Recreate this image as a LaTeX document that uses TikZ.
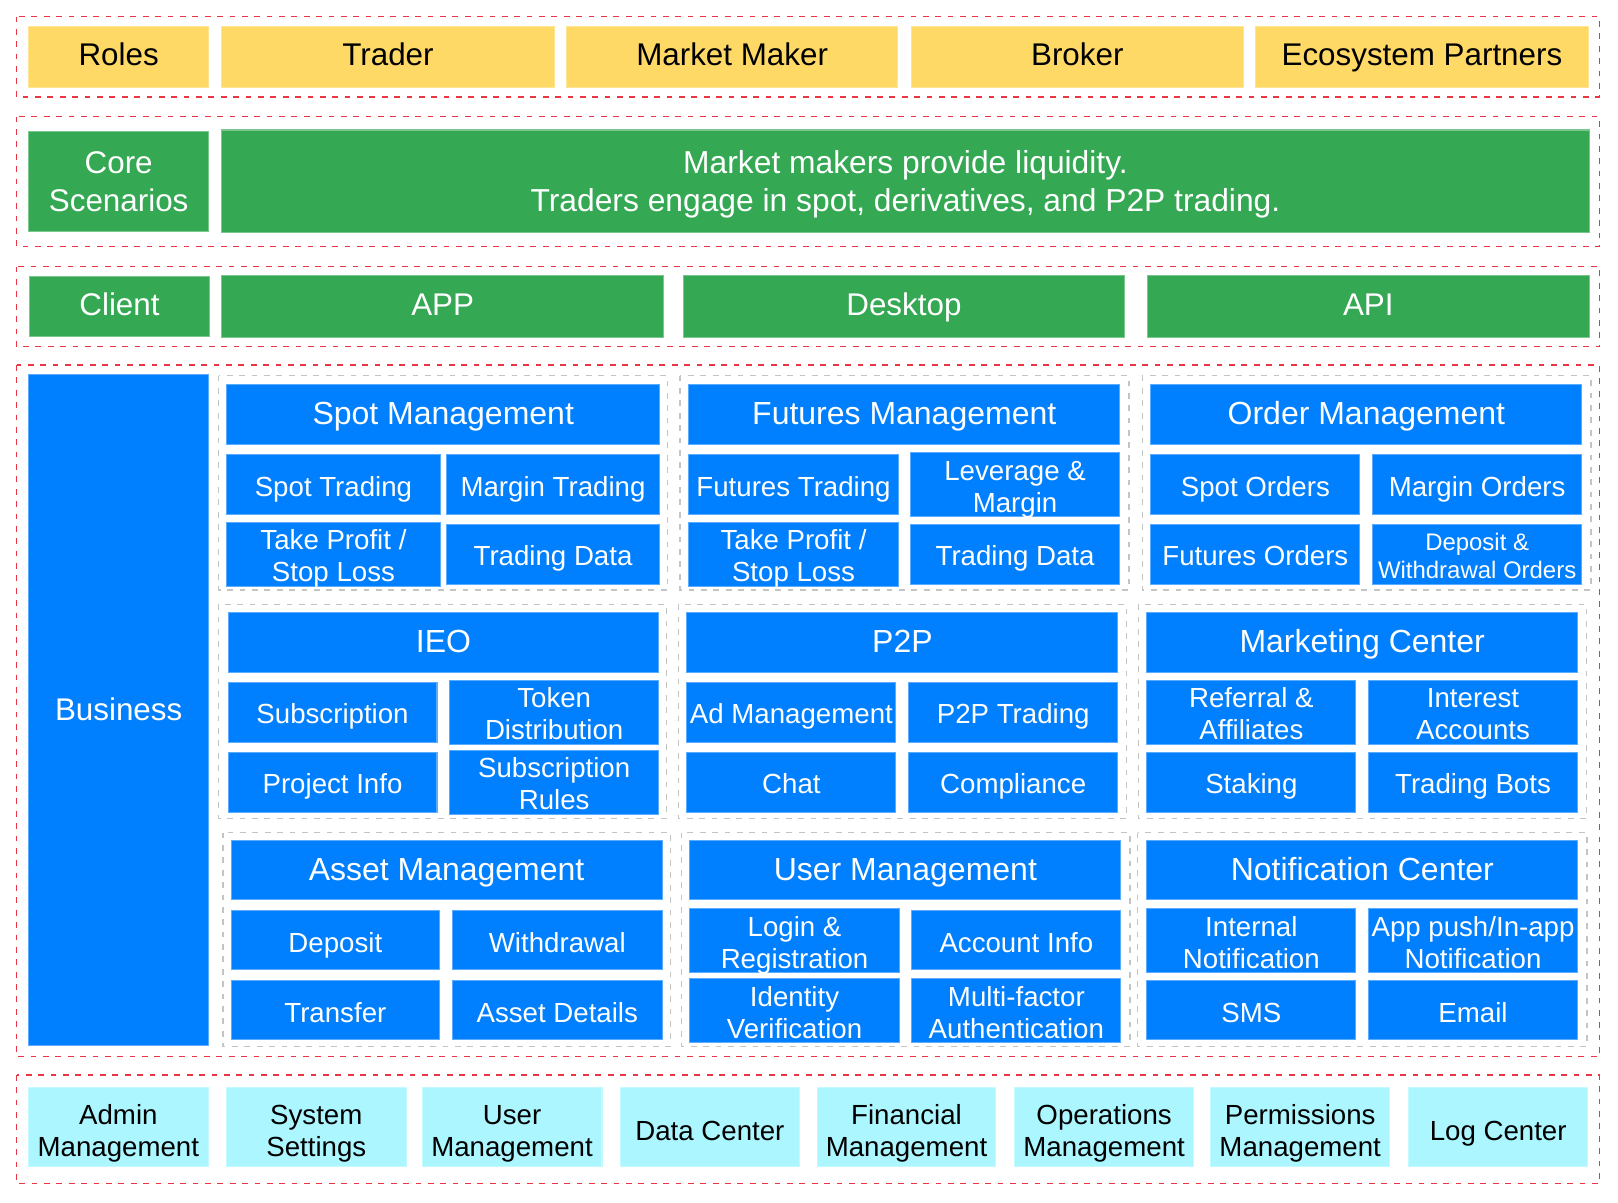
\documentclass[tikz,border=0pt]{standalone}
\usepackage{fontspec}
\setmainfont{Liberation Sans}
\definecolor{cY}{HTML}{FFD966}
\definecolor{cG}{HTML}{35A853}
\definecolor{cB}{HTML}{007FFF}
\definecolor{cC}{HTML}{ABF6FF}
\definecolor{cR}{HTML}{EA3545}
\definecolor{cGr}{HTML}{C4C4C4}
\newlength\lblshift
\newcommand\lbl[1]{\raisebox{-\lblshift}[\height][\depth]{\begin{tabular}{@{}c@{}}#1\end{tabular}}}
\newcommand\bx[7]{\node[#6, minimum width={(#4-#2)*0.5pt}, minimum height={(#5-#3)*0.5pt}] (#1) at ({(#2+#4)/2},{(#3+#5)/2}) {\lbl{#7}};}
\tikzset{
  box/.style={rectangle, inner sep=0pt, outer sep=0pt, line width=0.5pt, align=center},
  fbig/.style={font=\fontsize{15.2}{18.6}\selectfont\setlength\lblshift{0.6pt}},
  fbigtwo/.style={font=\fontsize{15.2}{18.6}\selectfont\setlength\lblshift{1.72pt}},
  fcore/.style={font=\fontsize{15.4}{18.6}\selectfont\setlength\lblshift{1.9pt}},
  fbus/.style={font=\fontsize{15.2}{18.6}\selectfont\setlength\lblshift{1.2pt}},
  fhead/.style={font=\fontsize{15.5}{18.6}\selectfont\setlength\lblshift{1.2pt}},
  fsub/.style={font=\fontsize{13.4}{15.5}\selectfont\setlength\lblshift{2.6pt}},
  fsmall/.style={font=\fontsize{11.6}{13.6}\selectfont\setlength\lblshift{2.1pt}},
  fcyan/.style={font=\fontsize{13.4}{15.5}\selectfont\setlength\lblshift{3.3pt}},
  ybox/.style={box, fill=cY, draw=cY!70!white, text=black, fbig},
  gbox/.style={box, fill=cG, draw=cG!65!white, text=white, fbig},
  gtwo/.style={box, fill=cG, draw=cG!65!white, text=white, fbigtwo},
  gcore/.style={box, fill=cG, draw=cG!65!white, text=white, fcore},
  bbig/.style={box, fill=cB, draw=cB!65!white, text=white, fbus},
  bhead/.style={box, fill=cB, draw=cB!65!white, text=white, fhead},
  bsub/.style={box, fill=cB, draw=cB!65!white, text=white, fsub},
  bsmall/.style={box, fill=cB, draw=cB!65!white, text=white, fsmall},
  cbox/.style={box, fill=cC, draw=cC!70!white, text=black, fcyan},
  layer/.style={draw=cR, line width=0.6pt, dash pattern=on 2.8pt off 3.2pt},
  group/.style={draw=cGr, line width=0.6pt, dash pattern=on 2.8pt off 3.2pt},
}
\begin{document}
\begin{tikzpicture}[x=0.5pt, y=-0.5pt]
\useasboundingbox (0,0) rectangle (1568,1165);
% layers
\draw[layer] (16,16) rectangle (1550,94);
\draw[layer] (16,113) rectangle (1550,239);
\draw[layer] (16,258.4) rectangle (1550,336);
\draw[layer] (16,353.7) rectangle (1550,1024);
\draw[layer] (16,1041.7) rectangle (1550,1147);
% roles
\bx{roles}{28}{25.5}{202}{84.6}{ybox}{Roles}
\bx{trader}{215}{25.5}{537}{84.6}{ybox}{Trader}
\bx{mm}{549}{25.5}{870}{84.6}{ybox}{Market Maker}
\bx{broker}{883}{25.5}{1205}{84.6}{ybox}{Broker}
\bx{eco}{1217}{25.5}{1539}{84.6}{ybox}{Ecosystem Partners}
% core scenarios
\bx{core}{28}{127.5}{202}{224}{gtwo}{Core\\Scenarios}
\bx{coretext}{215}{126}{1540}{225}{gcore}{Market makers provide liquidity.\\Traders engage in spot, derivatives, and P2P trading.}
% client
\bx{client}{28.6}{268}{203}{326}{gbox}{Client}
\bx{app}{215}{267}{643}{327}{gbox}{APP}
\bx{desktop}{662}{267}{1090}{327}{gbox}{Desktop}
\bx{api}{1112}{267}{1540}{327}{gbox}{API}
% business
\bx{business}{28}{362.7}{202}{1013.6}{bbig}{Business}
% groups
\draw[group] (212,364) rectangle (647,571.7);
\draw[group] (659,364) rectangle (1094,571.7);
\draw[group] (1107,364) rectangle (1541.7,571.7);
\draw[group] (212,585.6) rectangle (646,793.3);
\draw[group] (657.3,585.6) rectangle (1091.7,793.3);
\draw[group] (1103,585.6) rectangle (1537.5,793.3);
\draw[group] (216,806.9) rectangle (650,1014);
\draw[group] (660.5,806.9) rectangle (1095,1014);
\draw[group] (1102.6,806.9) rectangle (1538,1014);
% row A col 1
\bx{spot}{219.8}{372.4}{639.3}{430.4}{bhead}{Spot Management}
\bx{spotA}{219.8}{440.2}{426.5}{498.4}{bsub}{Spot Trading}
\bx{spotB}{432.6}{440.2}{639.3}{498.4}{bsub}{Margin Trading}
\bx{spotC}{219.8}{508}{426.5}{566.2}{bsub}{Take Profit /\\Stop Loss}
\bx{spotD}{432.6}{508}{639.3}{566.2}{bsub}{Trading Data}
% row A col 2
\bx{fut}{667.6}{372.4}{1085}{430.4}{bhead}{Futures Management}
\bx{futA}{667.6}{440.2}{870.4}{498.4}{bsub}{Futures Trading}
\bx{futB}{882.4}{440.2}{1085}{498.4}{bsub}{Leverage \&\\Margin}
\bx{futC}{667.6}{508}{870.4}{566.2}{bsub}{Take Profit /\\Stop Loss}
\bx{futD}{882.4}{508}{1085}{566.2}{bsub}{Trading Data}
% row A col 3
\bx{ord}{1115.3}{372.4}{1533}{430.4}{bhead}{Order Management}
\bx{ordA}{1115.3}{440.2}{1317.8}{498.4}{bsub}{Spot Orders}
\bx{ordB}{1330}{440.2}{1533}{498.4}{bsub}{Margin Orders}
\bx{ordC}{1115.3}{508}{1317.8}{566.2}{bsub}{Futures Orders}
\bx{ordD}{1330}{508}{1533}{566.2}{bsmall}{Deposit \&\\Withdrawal Orders}
% row B col 1
\bx{ieo}{221}{593.7}{638.5}{651.4}{bhead}{IEO}
\bx{ieoA}{221}{661}{423.5}{719.3}{bsub}{Subscription}
\bx{ieoB}{435.6}{661}{638.5}{719.3}{bsub}{Token\\Distribution}
\bx{ieoC}{221}{729}{423.5}{787}{bsub}{Project Info}
\bx{ieoD}{435.6}{729}{638.5}{787}{bsub}{Subscription\\Rules}
% row B col 2
\bx{ptp}{665.7}{593.7}{1083.3}{651.4}{bhead}{P2P}
\bx{ptpA}{665.7}{661}{868.2}{719.3}{bsub}{Ad Management}
\bx{ptpB}{880.5}{661}{1083.3}{719.3}{bsub}{P2P Trading}
\bx{ptpC}{665.7}{729}{868.2}{787}{bsub}{Chat}
\bx{ptpD}{880.5}{729}{1083.3}{787}{bsub}{Compliance}
% row B col 3
\bx{mkt}{1111.4}{593.7}{1528.8}{651.4}{bhead}{Marketing Center}
\bx{mktA}{1111.4}{661}{1314}{719.3}{bsub}{Referral \&\\Affiliates}
\bx{mktB}{1326.2}{661}{1528.8}{719.3}{bsub}{Interest\\Accounts}
\bx{mktC}{1111.4}{729}{1314}{787}{bsub}{Staking}
\bx{mktD}{1326.2}{729}{1528.8}{787}{bsub}{Trading Bots}
% row C col 1
\bx{ast}{224}{814.6}{641.6}{872}{bhead}{Asset Management}
\bx{astA}{224}{882.4}{426}{940}{bsub}{Deposit}
\bx{astB}{438.5}{882.4}{641.6}{940}{bsub}{Withdrawal}
\bx{astC}{224}{950.3}{426}{1007.8}{bsub}{Transfer}
\bx{astD}{438.5}{950.3}{641.6}{1007.8}{bsub}{Asset Details}
% row C col 2
\bx{usr}{668.6}{814.6}{1086.2}{872}{bhead}{User Management}
\bx{usrA}{668.6}{882.4}{871.4}{940}{bsub}{Login \&\\Registration}
\bx{usrB}{883.7}{882.4}{1086.2}{940}{bsub}{Account Info}
\bx{usrC}{668.6}{950.3}{871.4}{1007.8}{bsub}{Identity\\Verification}
\bx{usrD}{883.7}{950.3}{1086.2}{1007.8}{bsub}{Multi-factor\\Authentication}
% row C col 3
\bx{ntf}{1111.5}{814.6}{1529}{872}{bhead}{Notification Center}
\bx{ntfA}{1111.5}{882.4}{1313.8}{940}{bsub}{Internal\\Notification}
\bx{ntfB}{1326}{882.4}{1529}{940}{bsub}{App push/In-app\\Notification}
\bx{ntfC}{1111.5}{950.3}{1313.8}{1007.8}{bsub}{SMS}
\bx{ntfD}{1326}{950.3}{1529}{1007.8}{bsub}{Email}
% back office
\bx{adm}{27.7}{1054}{201.7}{1130.5}{cbox}{Admin\\Management}
\bx{sys}{219.5}{1054}{393.5}{1130.5}{cbox}{System\\Settings}
\bx{um}{409}{1054}{583.4}{1130.5}{cbox}{User\\Management}
\bx{dc}{601}{1054}{775}{1130.5}{cbox}{Data Center}
\bx{fin}{792}{1054}{965}{1130.5}{cbox}{Financial\\Management}
\bx{ops}{983}{1054}{1157}{1130.5}{cbox}{Operations\\Management}
\bx{perm}{1173}{1054}{1347}{1130.5}{cbox}{Permissions\\Management}
\bx{log}{1365}{1054}{1538.7}{1130.5}{cbox}{Log Center}
\end{tikzpicture}
\end{document}
